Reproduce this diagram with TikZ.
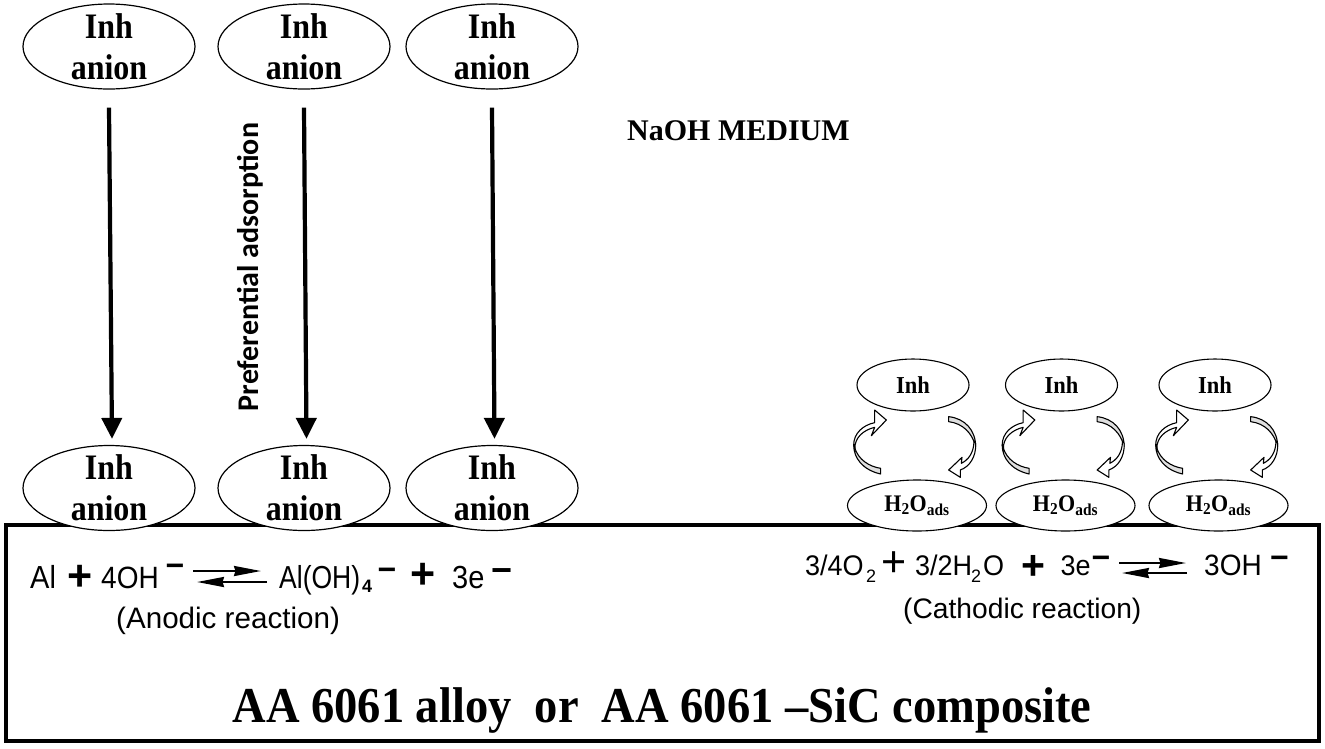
\documentclass[tikz,border=0pt]{standalone}
\usepackage{fontspec}
\usepackage{graphicx}
\setmainfont{Liberation Serif}
\newfontfamily\arialf{Liberation Sans}
\newfontfamily\carl{Carlito}
\usetikzlibrary{shapes.geometric,arrows.meta}
\newcommand{\fs}[1]{\fontsize{#1}{#1}\selectfont}
\newcommand{\st}[2][1.1]{\scalebox{1}[#1]{#2}}
\newcommand{\tx}[6][base west]{\node[inner sep=0pt,anchor=#1] (#2) at (#3,#4) {\arialf\fs{#5}#6};}
\newcommand{\bx}[6][base]{\node[inner sep=0pt,anchor=#1] (#2) at (#3,#4) {\arialf\bfseries\fs{#5}#6};}
\newcommand{\inhanion}{\makebox[0pt]{\raisebox{8.5pt}[0pt][0pt]{\st[1.12]{Inh}}}\makebox[0pt]{\raisebox{-32.5pt}[0pt][0pt]{\st[1.12]{anion}}}}
\tikzset{
  bigell/.style={ellipse,draw,fill=white,line width=1.2pt,minimum width=172pt,minimum height=85pt,inner sep=0pt,
     font=\bfseries\fontsize{32}{41}\selectfont},
  inhell/.style={ellipse,draw,fill=white,line width=1.1pt,minimum width=112pt,minimum height=52pt,inner sep=0pt,
     font=\bfseries\fontsize{22.5}{24}\selectfont},
  watell/.style={ellipse,draw,fill=white,line width=1.1pt,minimum width=139pt,minimum height=51pt,inner sep=0pt,
     font=\bfseries\fontsize{22}{24}\selectfont},
  bigarrow/.style={line width=4.2pt,-{Triangle[length=21pt,width=20pt]}},
  eqarrow/.style={line width=2.2pt,-{Stealth[length=27pt,width=10pt,inset=1.5pt]}},
  twist/.style={draw,line width=1.1pt,line join=round},
  cyclearrows/.pic={
    \path[twist,fill=gray!25,scale=.3333] (-97,250) .. controls (-130,245) and (-165,225) .. (-176,185)
       -- (-178,180) .. controls (-178,220) and (-150,255) .. (-97,267) -- cycle;
    \path[twist,fill=white,scale=.3333] (-178,180) .. controls (-178,145) and (-150,120) .. (-115,113)
       -- (-115,75) -- (-80,105) -- (-125,152) -- (-115,127)
       .. controls (-150,135) and (-176,160) .. (-174,190) -- cycle;
    \path[twist,fill=gray!25,scale=.3333] (107,95) .. controls (155,100) and (188,135) .. (188,185)
       .. controls (178,145) and (150,115) .. (107,110) -- cycle;
    \path[twist,fill=white,scale=.3333] (188,175) .. controls (190,215) and (170,245) .. (142,255)
       -- (142,277) -- (107,255) -- (147,217) -- (145,235)
       .. controls (165,225) and (182,205) .. (183,170) -- cycle;
  }
}
\begin{document}
\begin{tikzpicture}[x=1pt,y=-1pt]
\useasboundingbox (0,0) rectangle (1325,748);
% substrate
\draw[line width=3.6pt] (6,525) rectangle (1319,741);
\node[inner sep=0pt,anchor=base,font=\bfseries\fontsize{46.5}{46.5}\selectfont] (title) at (662,722) {\st[1.08]{AA 6061 alloy\ \ or\ \ AA 6061 --SiC composite}};
% inhibitor ellipses
\node[bigell] (t1) at (109,46.5) {\inhanion};
\node[bigell] (t2) at (304,46.5) {\inhanion};
\node[bigell] (t3) at (492,46.5) {\inhanion};
\node[bigell] (b1) at (109,488) {\inhanion};
\node[bigell] (b2) at (304,488) {\inhanion};
\node[bigell] (b3) at (492,488) {\inhanion};
\draw[bigarrow] ([shift={(0,18)}]t1.south) -- ([shift={(3,-6)}]b1.north);
\draw[bigarrow] ([shift={(0,18)}]t2.south) -- ([shift={(2.5,-6)}]b2.north);
\draw[bigarrow] ([shift={(0,18)}]t3.south) -- ([shift={(2.5,-6)}]b3.north);
\node[rotate=90,inner sep=0pt,font=\carl\bfseries\fontsize{30}{30}\selectfont] (pref) at (250,267) {Preferential adsorption};
\node[inner sep=0pt,anchor=base west,font=\bfseries\fontsize{30}{30}\selectfont] (naoh) at (627,140) {NaOH MEDIUM};
% cathodic cycles
\node[inhell] (i1) at (913,385) {\st[1.08]{Inh}};
\node[inhell] (i2) at (1061.5,385) {\st[1.08]{Inh}};
\node[inhell] (i3) at (1215,385) {\st[1.08]{Inh}};
\node[watell] (w1) at (917,505.5) {\st[1.08]{H\textsubscript{2}O\textsubscript{ads}}};
\node[watell] (w2) at (1065.5,505.5) {\st[1.08]{H\textsubscript{2}O\textsubscript{ads}}};
\node[watell] (w3) at (1218.5,505.5) {\st[1.08]{H\textsubscript{2}O\textsubscript{ads}}};
\pic at (i1.center) {cyclearrows};
\pic at (i2.center) {cyclearrows};
\pic at (i3.center) {cyclearrows};
% anodic equation
\tx{al}{30}{588}{29}{\st{Al}}
\bx{ap1}{80}{590}{43}{+}
\tx{oh}{101}{588}{28}{\st{4OH}}
\bx{am1}{175}{576.6}{32}{−}
\coordinate (a1) at (193,571); \coordinate (a2) at (261,571);
\coordinate (a3) at (267,582); \coordinate (a4) at (197,582);
\draw[eqarrow] (a1) -- (a2);
\draw[eqarrow] (a3) -- (a4);
\tx{aloh}{279}{588}{26.5}{\st[1.2]{Al(OH)}}
\bx[base west]{asub}{362}{592}{18}{4}
\bx{am2}{387}{580.6}{32}{−}
\bx{ap2}{423}{588}{43}{+}
\tx{ae}{452}{588}{29}{\st{3e}}
\bx{am3}{502}{582.6}{36}{−}
\tx{alab}{116}{628}{29.6}{(Anodic reaction)}
% cathodic equation
\tx{o2}{805}{575}{27}{\st[1.05]{3/4O}}
\tx{o2s}{866}{582}{18}{2}
\tx[base]{cp1}{894.5}{576.6}{43}{+}
\tx{h2o}{915}{575}{27}{\st[1.05]{3/2H}}
\tx{h2s}{971}{582}{18}{2}
\tx{h2e}{983}{575}{27}{\st[1.05]{O}}
\bx{cp2}{1033}{579}{41}{+}
\tx{ce}{1060.5}{575}{27}{\st[1.05]{3e}}
\bx{cm1}{1101}{568.6}{32}{−}
\coordinate (c1) at (1119,563); \coordinate (c2) at (1186,563);
\coordinate (c3) at (1187,573); \coordinate (c4) at (1122,573);
\draw[eqarrow] (c1) -- (c2);
\draw[eqarrow] (c3) -- (c4);
\tx{coh}{1204}{575}{28}{\st[1.05]{3OH}}
\bx{cm2}{1279.5}{568.6}{32}{−}
\tx{clab}{903}{618}{28.2}{(Cathodic reaction)}
\end{tikzpicture}
\end{document}
